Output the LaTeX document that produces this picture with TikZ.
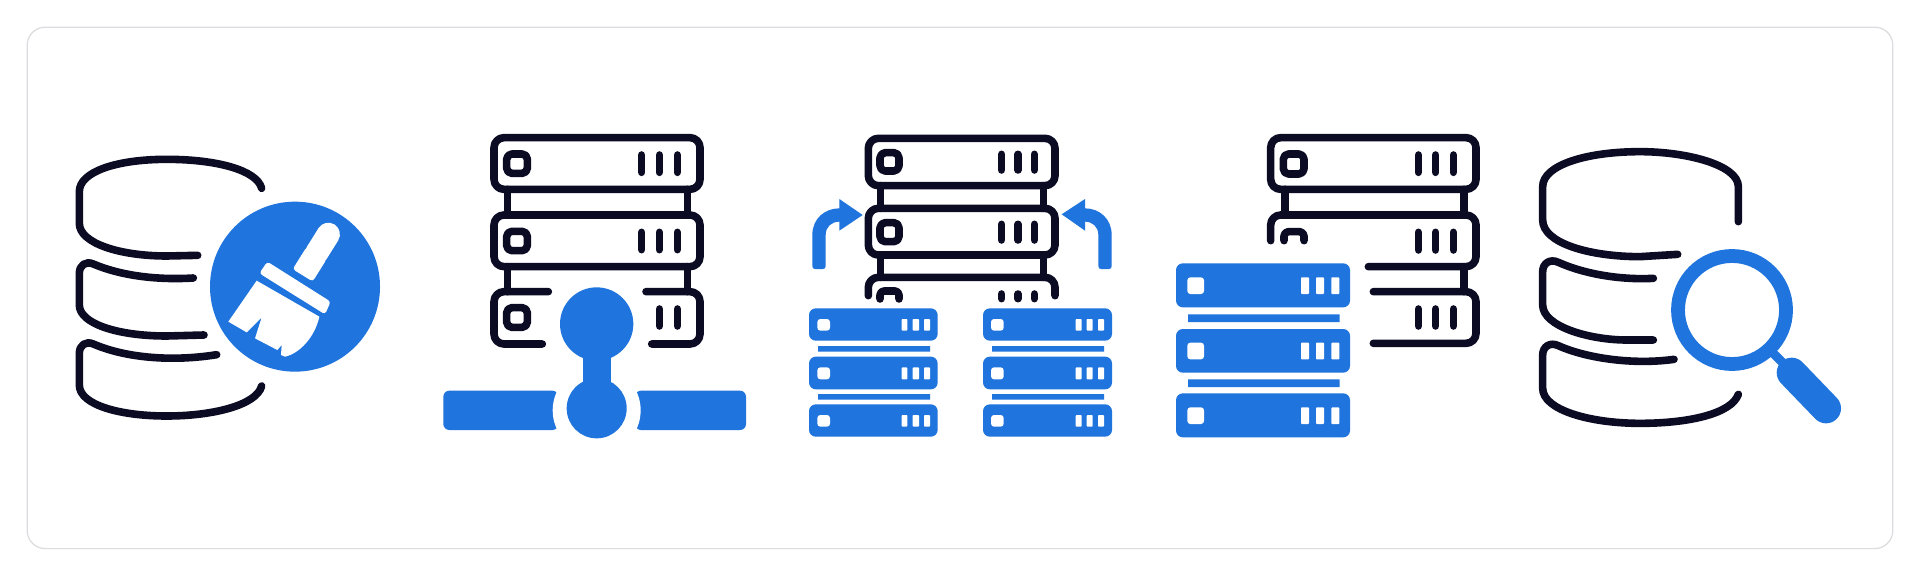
\documentclass[tikz,border=0pt]{standalone}
\definecolor{ink}{HTML}{0B0B24}
\definecolor{azure}{HTML}{1F74DE}
\definecolor{frameline}{HTML}{DCDCE0}
\tikzset{
  zoomed/.style={x=0.166667pt,y=-0.166667pt},
  stroke/.style={draw=ink,line width=3.8pt,line cap=round,line join=round},
  bluefill/.style={fill=azure,draw=none},
  whitefill/.style={fill=white,draw=none}
}
\newcommand{\ledbox}[4]{\draw[stroke,rounded corners=2.6pt] (#1,#3) rectangle (#2,#4);}
\newcommand{\barsv}[5]{\foreach \xx in {#1,#2,#3}{\draw[stroke] (\xx,#4) -- (\xx,#5);}}
\newcommand{\bluerow}[9]{\fill[bluefill,rounded corners=3.4pt] (#1,#3) rectangle (#2,#4);
  \fill[whitefill,rounded corners=1.5pt] (#5,#7) rectangle (#6,#8);
  \foreach \aa/\bb in {#9}{\fill[whitefill,rounded corners=0.4pt] (\aa,#7) rectangle (\bb,#8);}}
\begin{document}
\begin{tikzpicture}
\useasboundingbox (0,0) rectangle (960pt,-288pt);
\fill[white] (0,0) rectangle (960pt,-288pt);
\draw[frameline,line width=0.6pt,rounded corners=9pt] (13.6pt,-13.6pt) rectangle (946.4pt,-274.3pt);

% ---------- icon 1
\begin{scope}[xshift=25pt,yshift=-65pt,zoomed]
\draw[stroke] (635,175) .. controls (620,120) and (500,88) .. (350,88) .. controls (200,88) and (88,125) .. (88,185) -- (88,280) .. controls (88,340) and (210,378) .. (350,378) -- (443,376);
\draw[stroke] (430,444) .. controls (330,450) and (220,440) .. (130,402) .. controls (108,392) and (88,405) .. (88,430) -- (88,525) .. controls (88,580) and (200,618) .. (350,618) -- (462,615);
\draw[stroke] (500,674) .. controls (370,695) and (230,685) .. (130,642) .. controls (108,632) and (88,645) .. (88,670) -- (88,765) .. controls (88,825) and (210,858) .. (350,858) .. controls (490,858) and (620,825) .. (635,768);
\fill[azure] (735,470) circle [radius=255];
\draw[white,line width=11.6pt,line cap=round] (835,313) -- (800,369);
\fill[white,rounded corners=1.5pt] (800,369) ++(-30,-18.5) -- ++(60,37) -- (788,454.5) -- (728,417.5) -- cycle;
\fill[white,rounded corners=1.5pt] (652,395) -- (842,515) -- (825,553) -- (628,430) -- cycle;
\fill[white] (620,452) -- (808,560) .. controls (795,620) and (750,670) .. (705,680) -- (693,675) -- (695,645) -- (682,660) -- (615,625) -- (635,562) -- (590,607) -- (535,575) -- cycle;
\end{scope}

% ---------- icon 2
\begin{scope}[xshift=215pt,yshift=-60pt,zoomed]
\draw[stroke] (233,208) -- (233,285) (772,208) -- (772,285) (233,440) -- (233,515) (772,440) -- (772,515);
\draw[stroke,rounded corners=5pt] (192,53) rectangle (810,208);
\draw[stroke,rounded corners=5pt] (192,285) rectangle (810,440);
\ledbox{230}{292}{102}{160}
\ledbox{230}{292}{334}{392}
\ledbox{230}{292}{563}{622}
\barsv{635}{688}{742}{105}{157}
\barsv{635}{688}{742}{337}{389}
\draw[stroke] (688,567) -- (688,618) (742,567) -- (742,618);
\draw[stroke,rounded corners=5pt] (355,515) -- (192,515) -- (192,672) -- (337,672);
\draw[stroke,rounded corners=5pt] (648,515) -- (810,515) -- (810,672) -- (665,672);
\fill[azure,rounded corners=3pt] (40,812) -- (385,812) -- (385,930) -- (40,930) -- cycle;
\fill[azure,rounded corners=3pt] (615,812) -- (948,812) -- (948,930) -- (615,930) -- cycle;
\fill[white] (500,871) circle [radius=132];
\fill[azure] (500,865) circle [radius=90];
\fill[azure] (460,690) rectangle (542,800);
\fill[azure] (500,612) circle [radius=110];
\end{scope}

% ---------- icon 3
\begin{scope}[xshift=395pt,yshift=-60pt,zoomed]
\draw[stroke] (272,197) -- (272,265) (760,197) -- (760,265) (272,405) -- (272,472) (760,405) -- (760,472);
\draw[stroke,rounded corners=5pt] (235,55) rectangle (795,197);
\draw[stroke,rounded corners=5pt] (235,265) rectangle (795,405);
\ledbox{270}{327}{98}{153}
\ledbox{270}{327}{308}{365}
\barsv{635}{684}{733}{103}{150}
\barsv{635}{684}{733}{313}{360}
\draw[stroke,rounded corners=5pt] (235,527) -- (235,472) -- (795,472) -- (795,527);
\draw[stroke,rounded corners=2pt] (270,537) -- (270,513) -- (327,513) -- (327,537);
\barsv{635}{684}{733}{522}{536}
\fill[azure] (75,447) .. controls (70,447) and (67,444) .. (67,438) -- (67,345) .. controls (67,295) and (105,265) .. (148,265) -- (148,237) -- (218,285) -- (148,332) -- (148,305) .. controls (125,305) and (107,320) .. (107,345) -- (107,438) .. controls (107,444) and (104,447) .. (99,447) -- cycle;
\fill[azure] (957,447) .. controls (962,447) and (965,444) .. (965,438) -- (965,345) .. controls (965,295) and (927,265) .. (885,265) -- (885,237) -- (815,283) -- (885,332) -- (885,305) .. controls (907,305) and (925,320) .. (925,345) -- (925,438) .. controls (925,444) and (928,447) .. (933,447) -- cycle;
\foreach \rt/\rb/\lt/\lb in {565/662/597/632,710/808/742/778,853/950/885/920}{
  \bluerow{57}{443}{\rt}{\rb}{82}{120}{\lt}{\lb}{335/352,368/387,402/420}
  \bluerow{579}{966}{\rt}{\rb}{603}{641}{\lt}{\lb}{857/875,890/908,924/942}
}
\fill[azure] (84,678) rectangle (420,695) (84,822) rectangle (420,839);
\fill[azure] (606,678) rectangle (942,695) (606,822) rectangle (942,839);
\end{scope}

% ---------- icon 4
\begin{scope}[xshift=580pt,yshift=-60pt,zoomed]
\draw[stroke] (375,208) -- (375,285) (912,208) -- (912,285) (912,440) -- (912,515);
\draw[stroke,rounded corners=5pt] (332,53) rectangle (948,208);
\ledbox{370}{432}{102}{162}
\barsv{775}{827}{880}{105}{157}
\draw[stroke,rounded corners=5pt] (332,362) -- (332,285) -- (948,285) -- (948,440) -- (625,440);
\draw[stroke,rounded corners=2.2pt] (372,362) -- (372,335) -- (432,335) -- (432,362);
\barsv{775}{827}{880}{337}{390}
\draw[stroke,rounded corners=5pt] (640,515) -- (948,515) -- (948,670) -- (640,670);
\barsv{775}{827}{880}{567}{618}
\foreach \rt/\rb/\lt/\lb in {430/562/472/522,627/758/668/718,820/952/862/912}{
  \bluerow{48}{570}{\rt}{\rb}{82}{132}{\lt}{\lb}{423/447,468/492,514/538}
}
\fill[azure] (84,583) rectangle (539,606) (84,778) rectangle (539,801);
\end{scope}

% ---------- icon 5
\begin{scope}[xshift=760pt,yshift=-65pt,zoomed]
\draw[stroke] (655,275) -- (655,170) .. controls (655,105) and (500,65) .. (360,65) .. controls (200,65) and (68,105) .. (68,170) -- (68,270) .. controls (68,340) and (210,380) .. (360,380) -- (473,373);
\draw[stroke] (400,445) .. controls (310,450) and (200,435) .. (115,397) .. controls (90,385) and (68,400) .. (68,425) -- (68,525) .. controls (68,590) and (210,630) .. (320,630) -- (400,630);
\draw[stroke] (462,688) .. controls (340,705) and (200,685) .. (115,647) .. controls (90,635) and (68,650) .. (68,675) -- (68,775) .. controls (68,840) and (210,880) .. (360,880) .. controls (510,880) and (635,850) .. (655,793);
\draw[azure,line width=6.9pt] (636,540) circle [radius=162];
\draw[azure,line width=4.5pt] (755,665) -- (810,720);
\draw[azure,line width=15pt,line cap=round] (815,728) -- (918,835);
\end{scope}
\end{tikzpicture}
\end{document}
